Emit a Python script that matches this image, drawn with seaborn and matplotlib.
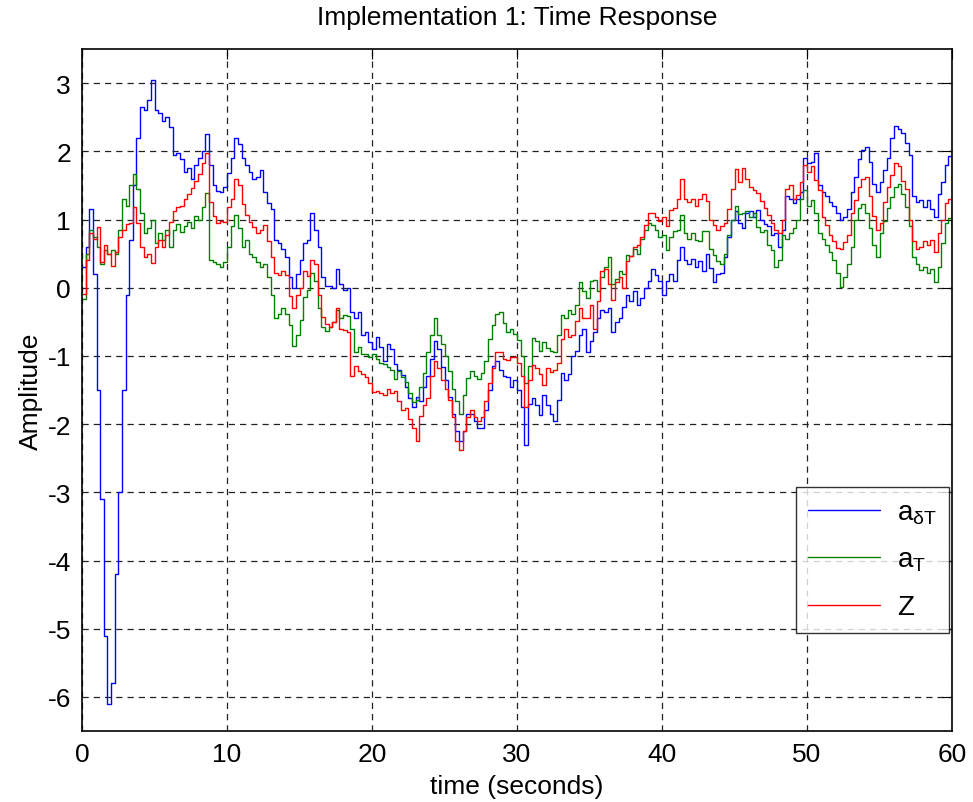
import numpy as np
import pandas as pd
import matplotlib
matplotlib.use("Agg")
import matplotlib.pyplot as plt
import seaborn as sns

# sample times (s), 0.25 s step
time_s = np.linspace(0, 60, 241)

a_dT = [
    0.30, 0.60, 1.15, 0.20,   -1.50, -3.10, -5.10, -6.10,   -5.80, -4.20, -3.00, -1.50,
    -0.10, 0.70, 1.50, 2.20,   2.65, 2.60, 2.75, 3.05,   2.60, 2.56, 2.44, 2.50,
    2.35, 1.95, 1.97, 1.88,   1.70, 1.75, 1.60, 1.80,   1.90, 2.00, 2.25, 1.80,
    1.50, 1.42, 1.40, 1.48,   1.68, 1.90, 2.20, 2.10,   1.90, 1.80, 1.70, 1.60,
    1.63, 1.73, 1.40, 1.24,   1.15, 0.70, 0.65, 0.57,   0.45, 0.15, 0.00, 0.20,
    0.40, 0.65, 0.70, 1.10,   0.85, 0.60, 0.15, 0.03,   0.02, 0.00, 0.28, 0.05,
    -0.04, 0.00, -0.35, -0.45,   -0.35, -0.70, -0.65, -0.80,   -0.90, -0.73, -0.87, -1.07,
    -0.82, -0.90, -1.12, -1.20,   -1.28, -1.45, -1.62, -1.75,   -1.60, -1.66, -1.46, -1.30,
    -1.05, -0.78, -0.90, -1.17,   -1.36, -1.60, -1.85, -2.10,   -2.25, -2.10, -1.85, -1.85,
    -1.95, -2.05, -2.05, -1.80,   -1.50, -1.15, -1.07, -1.20,   -1.30, -1.31, -1.46, -1.36,
    -1.50, -1.75, -2.30, -1.70,   -1.62, -1.72, -1.86, -1.57,   -1.72, -1.85, -1.95, -1.65,
    -1.25, -1.35, -1.27, -1.00,   -0.93, -0.69, -0.60, -0.95,   -0.78, -0.65, -0.45, -0.32,
    -0.35, -0.30, -0.65, -0.50,   -0.44, -0.29, -0.10, -0.20,   -0.05, -0.25, -0.15, 0.00,
    0.10, 0.28, 0.18, 0.10,   -0.10, 0.10, 0.20, 0.10,   0.40, 0.59, 0.40, 0.35,
    0.42, 0.30, 0.39, 0.25,   0.49, 0.29, 0.08, 0.20,   0.22, 0.45, 0.75, 1.00,
    1.13, 0.95, 0.87, 1.09,   1.12, 1.04, 1.14, 1.00,   0.93, 0.90, 0.77, 0.80,
    0.60, 0.85, 1.34, 1.30,   1.24, 1.30, 1.40, 1.90,   1.83, 1.85, 1.98, 1.50,
    1.41, 1.35, 1.26, 1.20,   1.09, 0.99, 1.04, 1.15,   1.40, 1.62, 1.88, 2.02,
    2.07, 1.85, 1.52, 1.40,   1.55, 1.72, 1.90, 2.20,   2.37, 2.33, 2.27, 2.12,
    1.95, 1.35, 1.25, 1.29,   1.19, 1.29, 1.15, 1.04,   1.38, 1.55, 1.80, 1.93,
    1.46,
]

a_T = [
    -0.16, 0.50, 0.85, 0.75,   0.60, 0.35, 0.55, 0.50,   0.55, 0.50, 0.85, 1.30,
    1.20, 1.50, 1.66, 1.45,   1.10, 0.80, 0.87, 1.00,   0.65, 0.80, 0.70, 0.85,
    0.60, 0.85, 0.94, 0.82,   0.90, 0.97, 0.88, 1.05,   1.00, 1.19, 1.39, 0.40,
    0.38, 0.35, 0.30, 0.38,   0.60, 0.90, 1.06, 0.88,   0.60, 0.70, 0.50, 0.45,
    0.38, 0.30, 0.35, 0.15,   -0.10, -0.45, -0.38, -0.30,   -0.38, -0.55, -0.85, -0.70,
    -0.48, -0.14, -0.04, 0.22,   0.10, -0.30, -0.58, -0.63,   -0.58, -0.50, -0.33, -0.45,
    -0.40, -0.42, -0.60, -0.95,   -0.87, -0.97, -0.97, -1.02,   -0.97, -1.05, -1.10, -1.12,
    -1.17, -1.20, -1.34, -1.22,   -1.31, -1.38, -1.55, -1.68,   -1.65, -1.45, -1.25, -0.95,
    -0.70, -0.45, -0.70, -0.83,   -1.00, -1.22, -1.48, -1.66,   -1.85, -1.57, -1.32, -1.22,
    -1.30, -1.34, -1.25, -1.07,   -0.75, -0.55, -0.38, -0.36,   -0.52, -0.65, -0.60, -0.68,
    -0.77, -1.00, -1.40, -1.15,   -0.74, -0.78, -0.93, -0.80,   -0.88, -0.93, -0.95, -0.70,
    -0.40, -0.45, -0.32, -0.38,   -0.25, 0.08, -0.05, -0.15,   0.10, 0.12, -0.05, 0.15,
    0.30, 0.45, 0.05, 0.13,   0.25, 0.20, 0.48, 0.46,   0.57, 0.50, 0.72, 0.84,
    0.95, 0.92, 0.84, 0.75,   0.78, 0.56, 0.74, 0.83,   0.85, 1.06, 0.80, 0.72,
    0.80, 0.70, 0.69, 0.83,   0.83, 0.57, 0.48, 0.39,   0.35, 0.50, 0.78, 1.00,
    1.20, 1.08, 1.10, 1.13,   1.04, 1.09, 0.89, 0.82,   0.84, 0.63, 0.55, 0.30,
    0.40, 0.78, 0.72, 0.80,   0.88, 1.00, 1.30, 1.43,   1.20, 1.28, 1.10, 0.80,
    0.72, 0.62, 0.52, 0.41,   0.21, 0.01, 0.15, 0.35,   0.60, 1.00, 1.17, 1.23,
    1.10, 0.88, 0.62, 0.45,   0.80, 0.98, 1.17, 1.33,   1.47, 1.52, 1.38, 1.18,
    0.90, 0.45, 0.35, 0.26,   0.30, 0.22, 0.28, 0.08,   0.30, 0.65, 0.95, 1.02,
    0.70,
]

Z = [
    -0.09, 0.40, 0.80, 0.72,   0.89, 0.38, 0.62, 0.50,   0.32, 0.52, 0.75, 0.85,
    0.93, 0.95, 1.19, 0.95,   0.60, 0.45, 0.50, 0.36,   0.60, 0.70, 0.60, 0.77,
    0.96, 1.12, 1.19, 1.20,   1.30, 1.37, 1.46, 1.56,   1.67, 1.83, 1.98, 1.25,
    1.05, 0.95, 0.98, 0.96,   1.19, 1.30, 1.60, 1.50,   1.22, 1.06, 0.96, 0.89,
    0.80, 0.85, 0.92, 0.68,   0.45, 0.22, 0.18, 0.24,   0.18, -0.12, -0.30, -0.10,
    0.00, 0.25, 0.17, 0.40,   0.35, -0.10, -0.43, -0.53,   -0.57, -0.50, -0.30, -0.60,
    -0.62, -0.65, -1.30, -1.15,   -1.22, -1.27, -1.31, -1.40,   -1.53, -1.52, -1.55, -1.58,
    -1.48, -1.54, -1.52, -1.66,   -1.80, -1.76, -1.92, -2.05,   -2.25, -1.88, -1.72, -1.62,
    -1.30, -1.08, -1.18, -1.36,   -1.48, -1.65, -1.90, -2.25,   -2.38, -2.10, -1.90, -1.80,
    -1.90, -1.95, -1.90, -1.66,   -1.40, -1.18, -0.95, -0.95,   -1.05, -1.06, -1.02, -1.02,
    -1.10, -1.30, -1.75, -1.35,   -1.13, -1.18, -1.27, -1.42,   -1.18, -1.23, -1.20, -1.10,
    -0.75, -0.60, -0.72, -0.69,   -0.49, -0.30, -0.44, -0.45,   -0.25, -0.60, -0.20, 0.25,
    0.27, 0.05, -0.18, 0.08,   0.15, 0.00, 0.39, 0.46,   0.59, 0.62, 0.75, 0.92,
    1.10, 1.10, 1.04, 0.98,   1.03, 0.90, 1.14, 1.17,   1.30, 1.60, 1.30, 1.25,
    1.30, 1.20, 1.30, 1.37,   1.27, 1.00, 0.92, 0.85,   0.90, 0.95, 1.15, 1.45,
    1.74, 1.55, 1.75, 1.60,   1.48, 1.43, 1.39, 1.27,   1.17, 1.06, 0.95, 0.85,
    0.80, 1.00, 1.45, 1.50,   1.30, 1.36, 1.55, 1.80,   1.70, 1.78, 1.58, 1.43,
    1.04, 0.92, 0.78, 0.68,   0.58, 0.57, 0.67, 0.78,   1.10, 1.29, 1.48, 1.60,
    1.62, 1.35, 1.05, 0.85,   0.95, 1.25, 1.48, 1.65,   1.83, 1.78, 1.57, 1.45,
    1.00, 0.68, 0.57, 0.60,   0.68, 0.62, 0.70, 0.52,   0.80, 0.99, 1.24, 1.30,
    0.89,
]

series_names = [r"a$_{\delta T}$", r"a$_{T}$", "Z"]
series_colors = ["#0000FF", "#008000", "#FF0000"]
x_ticks = [0, 10, 20, 30, 40, 50, 60]
y_ticks = [-6, -5, -4, -3, -2, -1, 0, 1, 2, 3]

df = pd.concat(
    [pd.DataFrame({"time": time_s, "value": vals, "signal": name})
     for name, vals in zip(series_names, [a_dT, a_T, Z])],
    ignore_index=True,
)

sns.set_style("white")
plt.rcParams["font.family"] = ["Liberation Sans", "DejaVu Sans"]
plt.rcParams["mathtext.fontset"] = "custom"
plt.rcParams["mathtext.rm"] = "Liberation Sans"
plt.rcParams["mathtext.it"] = "Liberation Sans"
plt.rcParams["mathtext.bf"] = "Liberation Sans:bold"
plt.rcParams["axes.unicode_minus"] = False
for key in ("text.color", "axes.labelcolor", "xtick.color", "ytick.color"):
    plt.rcParams[key] = "black"

fig = plt.figure(figsize=(9.73, 8.03), dpi=100)
ax = fig.add_axes([82 / 973, 1 - 732 / 803, (952 - 82) / 973, (732 - 50) / 803])

sns.lineplot(
    data=df, x="time", y="value", hue="signal", hue_order=series_names,
    palette=series_colors, estimator=None, sort=False, ax=ax,
    drawstyle="steps-post", linewidth=1.0,
)

ax.set_xlim(0, 60)
ax.set_ylim(-6.5, 3.5)
ax.set_xticks(x_ticks)
ax.set_yticks(y_ticks)
ax.grid(True, color="#222222", linestyle=(0, (5, 4)), linewidth=0.9)
ax.tick_params(direction="in", length=7, width=0.8, top=True, right=True,
               labelsize=19, pad=8)
for sp in ax.spines.values():
    sp.set_color("black")
    sp.set_linewidth(1.2)

ax.set_xlabel("time (seconds)", fontsize=19, labelpad=6)
ax.set_ylabel("Amplitude", fontsize=19, labelpad=3)
ax.set_title("Implementation 1: Time Response", fontsize=19, pad=18)

handles, labels = ax.get_legend_handles_labels()
leg = ax.legend(
    handles, labels, loc="lower right", bbox_to_anchor=(0.997, 0.144),
    fontsize=20, frameon=True, fancybox=False, edgecolor="black",
    handlelength=2.6, handletextpad=0.6, borderpad=0.45, labelspacing=0.75,
    borderaxespad=0.0,
)
leg.get_frame().set_linewidth(1.0)

fig.savefig("out.png", dpi=100)
